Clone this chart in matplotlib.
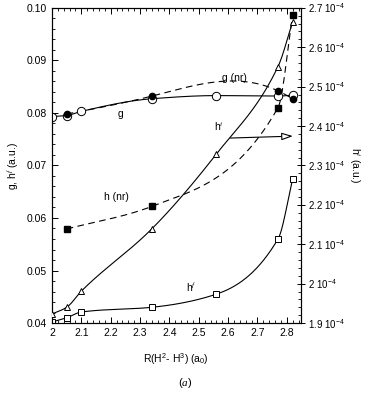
import matplotlib
matplotlib.use('Agg')
import matplotlib.pyplot as plt
import numpy as np
from matplotlib.ticker import MultipleLocator, FixedLocator, FixedFormatter

plt.rcParams['font.family'] = ['Liberation Sans', 'DejaVu Sans']
plt.rcParams['font.size'] = 7.5
plt.rcParams['mathtext.fontset'] = 'custom'
plt.rcParams['mathtext.rm'] = 'Liberation Sans'
plt.rcParams['mathtext.it'] = 'Liberation Serif:italic'

# g (open circles, solid)
x_g = [2.0, 2.05, 2.1, 2.34, 2.56, 2.77, 2.82]
y_g = [0.0793, 0.0795, 0.0803, 0.0827, 0.0833, 0.0832, 0.0834]
# g (nr) (filled circles, dashed)
x_gnr = [2.05, 2.34, 2.77, 2.82]
y_gnr = [0.0798, 0.0832, 0.0842, 0.0827]
# h (nr) (filled squares, dashed)
x_hnr = [2.05, 2.34, 2.77, 2.82]
y_hnr = [0.0579, 0.0622, 0.0810, 0.0987]
# h^f (open squares, solid, left axis)
x_hf = [2.0, 2.05, 2.1, 2.34, 2.56, 2.77, 2.82]
y_hf = [0.0402, 0.0410, 0.0421, 0.0430, 0.0455, 0.0560, 0.0674]
# h^i (open triangles, solid, right axis)
x_hi = [2.0, 2.05, 2.1, 2.34, 2.56, 2.77, 2.82]
y_hi = [1.923e-4, 1.940e-4, 1.981e-4, 2.139e-4, 2.329e-4, 2.551e-4, 2.665e-4]

right_ticks = [1.9e-4, 2.0e-4, 2.1e-4, 2.2e-4, 2.3e-4, 2.4e-4, 2.5e-4, 2.6e-4, 2.7e-4]
right_labels = ['1.9 10$^{-4}$', '2 10$^{-4}$', '2.1 10$^{-4}$', '2.2 10$^{-4}$',
                '2.3 10$^{-4}$', '2.4 10$^{-4}$', '2.5 10$^{-4}$', '2.6 10$^{-4}$',
                '2.7 10$^{-4}$']


# smooth connecting lines: natural cubic spline or monotone cubic (pchip)
def smooth(x, y, kind='pchip', n=200):
    x = np.asarray(x, float)
    y = np.asarray(y, float)
    k = len(x)
    h = np.diff(x)
    d = np.diff(y) / h
    if kind == 'spline':
        A = np.zeros((k, k))
        b = np.zeros(k)
        A[0, 0] = A[-1, -1] = 1
        for i in range(1, k - 1):
            A[i, i - 1] = h[i - 1]
            A[i, i] = 2 * (h[i - 1] + h[i])
            A[i, i + 1] = h[i]
            b[i] = 3 * (d[i] - d[i - 1])
        c = np.linalg.solve(A, b)
        m = np.empty(k)
        m[:-1] = d - h * (2 * c[:-1] + c[1:]) / 3
        m[-1] = d[-1] + h[-1] * (c[-2] + 2 * c[-1]) / 3
    else:
        m = np.zeros(k)
        for i in range(1, k - 1):
            if d[i - 1] * d[i] > 0:
                w1 = 2 * h[i] + h[i - 1]
                w2 = h[i] + 2 * h[i - 1]
                m[i] = (w1 + w2) / (w1 / d[i - 1] + w2 / d[i])
        m[0] = d[0]
        m[-1] = d[-1]
    xs = np.linspace(x[0], x[-1], n)
    idx = np.clip(np.searchsorted(x, xs) - 1, 0, k - 2)
    t = (xs - x[idx]) / h[idx]
    h00 = 2 * t ** 3 - 3 * t ** 2 + 1
    h10 = t ** 3 - 2 * t ** 2 + t
    h01 = -2 * t ** 3 + 3 * t ** 2
    h11 = t ** 3 - t ** 2
    ys = h00 * y[idx] + h10 * h[idx] * m[idx] + h01 * y[idx + 1] + h11 * h[idx] * m[idx + 1]
    return xs, ys


fig = plt.figure(figsize=(3.70, 3.93), dpi=100)
ax = fig.add_axes([0.1405, 0.178, 0.672, 0.802])
ax2 = ax.twinx()

lw = 0.8
dash = (0, (6, 4))
xs, ys = smooth(x_g, y_g)
ax.plot(xs, ys, 'k-', lw=lw)
ax.plot(x_g, y_g, 'o', mfc='white', mec='k', ms=6, mew=0.7, zorder=4)

xs, ys = smooth(x_gnr, y_gnr, 'spline')
ax.plot(xs, ys, 'k', ls=dash, lw=lw)
ax.plot(x_gnr, y_gnr, 'o', color='k', ms=4.5, zorder=5)

xs, ys = smooth(x_hnr, y_hnr)
ax.plot(xs, ys, 'k', ls=dash, lw=lw)
ax.plot(x_hnr, y_hnr, 's', color='k', ms=5, zorder=5)

xs, ys = smooth(x_hf, y_hf)
ax.plot(xs, ys, 'k-', lw=lw)
ax.plot(x_hf, y_hf, 's', mfc='white', mec='k', ms=4.5, mew=0.7, zorder=4)

xs, ys = smooth(x_hi, y_hi)
ax2.plot(xs, ys, 'k-', lw=lw)
ax2.plot(x_hi, y_hi, '^', mfc='white', mec='k', ms=5, mew=0.7, zorder=4)

ax.set_xlim(2.0, 2.847)
ax.set_ylim(0.04, 0.10)
ax2.set_ylim(1.9e-4, 2.7e-4)

ax.xaxis.set_minor_locator(MultipleLocator(0.02))
ax.yaxis.set_minor_locator(MultipleLocator(0.002))
ax.set_xticks(np.arange(2.0, 2.81, 0.1))
ax.set_xticklabels(['2', '2.1', '2.2', '2.3', '2.4', '2.5', '2.6', '2.7', '2.8'])
ax.set_yticks([0.04, 0.05, 0.06, 0.07, 0.08, 0.09, 0.10])
ax.set_yticklabels(['0.04', '0.05', '0.06', '0.07', '0.08', '0.09', '0.10'])
ax.tick_params(which='both', direction='in', top=True, right=False)
ax.tick_params(which='major', length=4, width=0.7)
ax.tick_params(which='minor', length=2.5, width=0.6)

ax2.yaxis.set_major_locator(FixedLocator(right_ticks))
ax2.yaxis.set_major_formatter(FixedFormatter(right_labels))
ax2.yaxis.set_minor_locator(MultipleLocator(0.02e-4))
ax2.tick_params(which='major', direction='inout', length=6, width=0.7, labelsize=7, pad=2)
ax2.tick_params(which='minor', direction='in', length=2.5, width=0.6)

for a in (ax, ax2):
    for s in a.spines.values():
        s.set_linewidth(0.8)

ax.set_xlabel('R(H$^2$- H$^3$) (a$_0$)', labelpad=10)
ax.set_ylabel('g, h$^f$ (a.u.)')
ax2.set_ylabel('h$^i$ (a.u.)', rotation=270, labelpad=12)

ax.text(2.235, 0.0797, 'g', ha='center', va='center')
ax.text(2.62, 0.0867, 'g (nr)', ha='center', va='center')
ax.text(2.22, 0.0640, 'h (nr)', ha='center', va='center')
ax.text(2.475, 0.0467, 'h$^f$', ha='center', va='center')
ax.text(2.57, 0.0773, 'h$^i$', ha='center', va='center')
ax.annotate('', xy=(2.83, 0.0756), xytext=(2.598, 0.0752),
            arrowprops=dict(arrowstyle='-|>,head_length=0.9,head_width=0.3',
                            fc='white', ec='k', lw=0.8))

fig.text(0.5, 0.026, '$(a)$', ha='center', va='center', fontsize=8)

fig.savefig('out.png', dpi=100)
